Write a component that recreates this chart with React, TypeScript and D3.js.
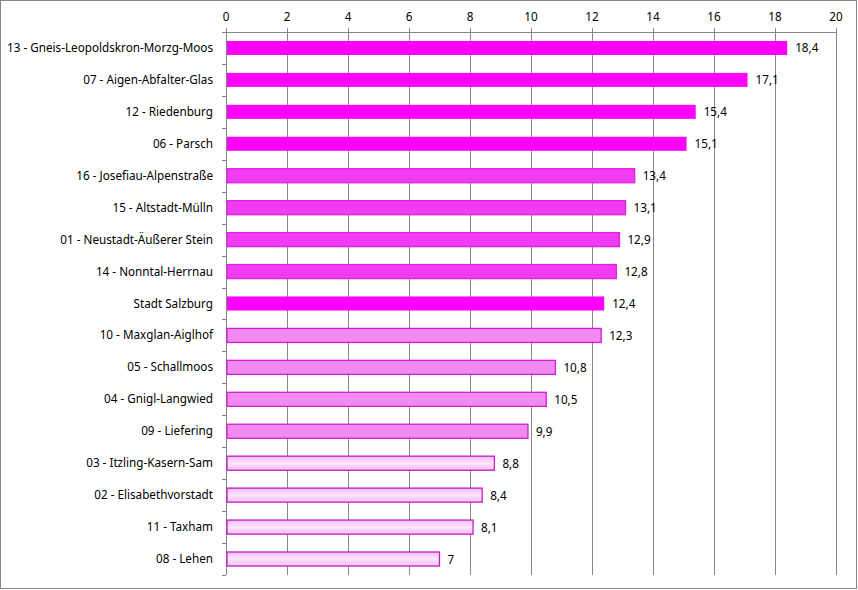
import React, { useEffect, useRef } from "react";
import * as d3 from "d3";

const categories = [
  "13 - Gneis-Leopoldskron-Morzg-Moos",
  "07 - Aigen-Abfalter-Glas",
  "12 - Riedenburg",
  "06 - Parsch",
  "16 - Josefiau-Alpenstraße",
  "15 - Altstadt-Mülln",
  "01 - Neustadt-Äußerer Stein",
  "14 - Nonntal-Herrnau",
  "Stadt Salzburg",
  "10 - Maxglan-Aiglhof",
  "05 - Schallmoos",
  "04 - Gnigl-Langwied",
  "09 - Liefering",
  "03 - Itzling-Kasern-Sam",
  "02 - Elisabethvorstadt",
  "11 - Taxham",
  "08 - Lehen",
];
const values = [18.4, 17.1, 15.4, 15.1, 13.4, 13.1, 12.9, 12.8, 12.4, 12.3, 10.8, 10.5, 9.9, 8.8, 8.4, 8.1, 7];
const groups = [0, 0, 0, 0, 1, 1, 1, 1, 0, 2, 2, 2, 2, 3, 3, 3, 3];
const tickValues = [0, 2, 4, 6, 8, 10, 12, 14, 16, 18, 20];

const groupFill = ["#FF00FF", "#F23CF2", "#F28AF2", "url(#lightGrad)"];
const groupStroke = ["#FF00FF", "#DD22DD", "#D020D0", "#C020C0"];

export default function App() {
  const ref = useRef<SVGSVGElement>(null);
  useEffect(() => {
    const svg = d3.select(ref.current);
    svg.selectAll("*").remove();
    const W = 858, H = 590;
    const left = 226, right = 836, top = 32, bottom = 575;
    const x = d3.scaleLinear().domain([0, 20]).range([left, right]);
    const y = d3.scaleBand<string>().domain(categories).range([top, bottom]).paddingInner(0.56).paddingOuter(0.28);
    const font = "'Noto Sans', sans-serif";
    const fs = 11.7;

    const defs = svg.append("defs");
    const g = defs.append("linearGradient").attr("id", "lightGrad").attr("x1", 0).attr("x2", 0).attr("y1", 0).attr("y2", 1);
    g.append("stop").attr("offset", "0%").attr("stop-color", "#F8B8F8");
    g.append("stop").attr("offset", "50%").attr("stop-color", "#FDE6FD");
    g.append("stop").attr("offset", "100%").attr("stop-color", "#F8B8F8");

    svg.append("rect").attr("x", 0.5).attr("y", 0.5).attr("width", W - 2).attr("height", H - 2)
      .attr("fill", "#fff").attr("stroke", "#868686").attr("stroke-width", 1);

    // gridlines
    svg.append("g").selectAll("line").data(tickValues).join("line")
      .attr("x1", (d) => Math.round(x(d)) + 0.5).attr("x2", (d) => Math.round(x(d)) + 0.5)
      .attr("y1", top - 4).attr("y2", bottom)
      .attr("stroke", "#868686").attr("stroke-width", 1);

    // top axis line
    svg.append("line").attr("x1", left).attr("x2", right + 1).attr("y1", top + 0.5).attr("y2", top + 0.5)
      .attr("stroke", "#868686");
    svg.append("g").selectAll("text").data(tickValues).join("text")
      .attr("x", (d) => x(d)).attr("y", 21).attr("text-anchor", "middle")
      .attr("font-family", font).attr("font-size", fs).attr("fill", "#000")
      .text((d) => String(d));

    // left axis
    svg.append("line").attr("x1", left + 0.5).attr("x2", left + 0.5).attr("y1", top).attr("y2", bottom)
      .attr("stroke", "#868686");
    const step = (bottom - top) / categories.length;
    svg.append("g").selectAll("line").data(d3.range(categories.length + 1)).join("line")
      .attr("x1", left - 4).attr("x2", left)
      .attr("y1", (i) => Math.round(top + i * step) + 0.5).attr("y2", (i) => Math.round(top + i * step) + 0.5)
      .attr("stroke", "#868686");

    // bars
    svg.append("g").selectAll("rect").data(categories).join("rect")
      .attr("x", left + 1)
      .attr("y", (d) => y(d)!)
      .attr("width", (d, i) => x(values[i]) - left - 1)
      .attr("height", y.bandwidth())
      .attr("fill", (d, i) => groupFill[groups[i]])
      .attr("stroke", (d, i) => groupStroke[groups[i]])
      .attr("stroke-width", (d, i) => (groups[i] === 0 ? 0 : 1.3));

    // category labels
    svg.append("g").selectAll("text").data(categories).join("text")
      .attr("x", 213).attr("y", (d) => y(d)! + y.bandwidth() / 2 + 4)
      .attr("text-anchor", "end").attr("font-family", font).attr("font-size", fs).attr("fill", "#000")
      .text((d) => d);

    // value labels
    svg.append("g").selectAll("text").data(categories).join("text")
      .attr("x", (d, i) => x(values[i]) + 8).attr("y", (d) => y(d)! + y.bandwidth() / 2 + 4.5)
      .attr("font-family", font).attr("font-size", fs).attr("fill", "#000")
      .text((d, i) => String(values[i]).replace(".", ","));
  }, []);
  return (
    <svg ref={ref} width={858} height={590} style={{ position: "absolute", left: 0, top: 0 }} />
  );
}
